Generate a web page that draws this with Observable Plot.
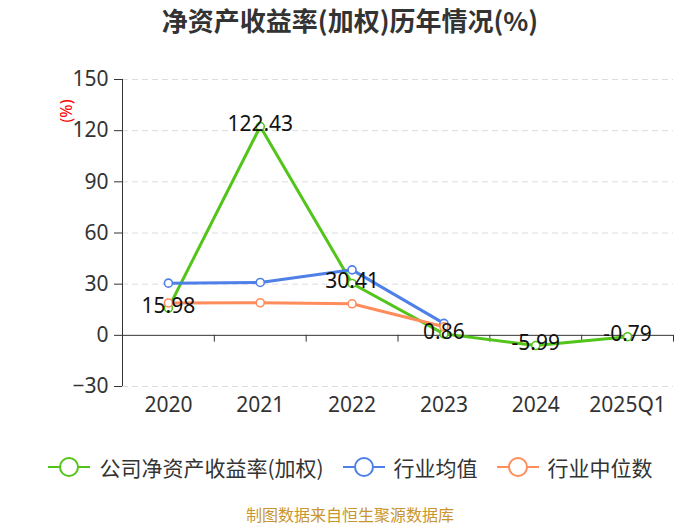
<!DOCTYPE html>
<html>
<head>
<meta charset="utf-8">
<script src="https://cdn.jsdelivr.net/npm/d3@7"></script>
<script src="https://cdn.jsdelivr.net/npm/@observablehq/plot@0.6"></script>
<style>
  html, body { margin: 0; padding: 0; background: #fff; }
  body { width: 700px; height: 525px; position: relative; overflow: hidden;
         font-family: "Noto Sans CJK SC", "Noto Sans", sans-serif; }
  #title { position: absolute; top: 3px; left: 0; width: 700px; text-align: center;
           font-size: 26px; font-weight: bold; color: #333; line-height: 34px; }
  #chart { position: absolute; top: 40px; left: 0; }
  #unit { position: absolute; left: 56px; top: 96px; width: 22px; height: 30px; }
  #legend { position: absolute; top: 452px; left: 0; width: 700px; display: flex;
            justify-content: center; align-items: center; gap: 18px; font-size: 21px; color: #333; }
  .item { display: flex; align-items: center; gap: 8px; }
  #caption { position: absolute; top: 505px; left: 0; width: 700px; text-align: center;
             font-size: 16px; color: #c9952e; line-height: 18px; }
</style>
</head>
<body>
<div id="title">净资产收益率(加权)历年情况(%)</div>
<div id="chart"></div>
<div id="legend"></div>
<div id="caption">制图数据来自恒生聚源数据库</div>
<script>
const categories = ["2020", "2021", "2022", "2023", "2024", "2025Q1"];
const companyROE = [15.98, 122.43, 30.41, 0.86, -5.99, -0.79];
const industryAvg = [30.6, 31.0, 38.4, 7.0, null, null];
const industryMedian = [19.0, 19.1, 18.5, 5.0, null, null];
const yTicks = [-30, 0, 30, 60, 90, 120, 150];
const seriesNames = ["公司净资产收益率(加权)", "行业均值", "行业中位数"];
const colors = ["#52c41a", "#4f80e8", "#ff8c5a"];

const idx = categories.map((_, i) => i);
const toRows = vals => idx.filter(i => vals[i] != null).map(i => ({x: i + 0.5, y: vals[i], label: categories[i]}));
const series = [companyROE, industryAvg, industryMedian].map(toRows);
const boundaries = idx.map(i => i + 1);

const marks = [
  Plot.ruleY(yTicks.filter(t => t !== 0), {stroke: "#dcdcdc", strokeDasharray: "6,4", strokeWidth: 1}),
  Plot.ruleY([0], {stroke: "#333", strokeWidth: 1}),
  Plot.ruleX([0], {y1: yTicks[0], y2: yTicks[yTicks.length - 1], stroke: "#333", strokeWidth: 1}),
  Plot.ruleX(boundaries, {x: d => d, y1: 0, y2: -4, stroke: "#333", strokeWidth: 1}),
  Plot.axisY({ticks: yTicks, tickSize: 8, tickPadding: 6, fontSize: 21, color: "#333", stroke: "#333", label: null}),
  Plot.axisX({ticks: idx.map(i => i + 0.5), tickFormat: d => categories[Math.round(d - 0.5)], tickSize: 0, tickPadding: 11, fontSize: 21, color: "#333", label: null})
];
series.forEach((rows, k) => {
  marks.push(Plot.line(rows, {x: "x", y: "y", stroke: colors[k], strokeWidth: 3}));
});
series.forEach((rows, k) => {
  marks.push(Plot.dot(rows, {x: "x", y: "y", r: 4, fill: "#fff", stroke: colors[k], strokeWidth: 1.6}));
});
marks.push(Plot.text(series[0], {x: "x", y: "y", text: d => d.y.toFixed(2), fontSize: 21, fill: "#111", dy: -2, lineAnchor: "middle"}));

const chart = Plot.plot({
  width: 700,
  height: 400,
  marginLeft: 122,
  marginRight: 27,
  marginTop: 39,
  marginBottom: 54,
  style: {fontFamily: "'Noto Sans', 'Noto Sans CJK SC', sans-serif", background: "transparent", overflow: "visible"},
  x: {type: "linear", domain: [0, categories.length], axis: null},
  y: {domain: [yTicks[0], yTicks[yTicks.length - 1]], axis: null},
  marks
});
document.getElementById("chart").appendChild(chart);

// y unit label
const unit = document.createElementNS("http://www.w3.org/2000/svg", "svg");
unit.setAttribute("id", "unit");
unit.setAttribute("width", "22");
unit.setAttribute("height", "30");
unit.innerHTML = '<text transform="translate(16,15) rotate(-90)" text-anchor="middle" font-size="16" fill="#f00" font-family="Noto Sans, sans-serif">(%)</text>';
document.body.appendChild(unit);

// legend
const legend = document.getElementById("legend");
seriesNames.forEach((name, k) => {
  const item = document.createElement("div");
  item.className = "item";
  item.innerHTML = `<svg width="44" height="22"><line x1="1" y1="11" x2="43" y2="11" stroke="${colors[k]}" stroke-width="2"/><circle cx="22" cy="11" r="9" fill="#fff" stroke="${colors[k]}" stroke-width="2"/></svg><span>${name}</span>`;
  legend.appendChild(item);
});
</script>
</body>
</html>
